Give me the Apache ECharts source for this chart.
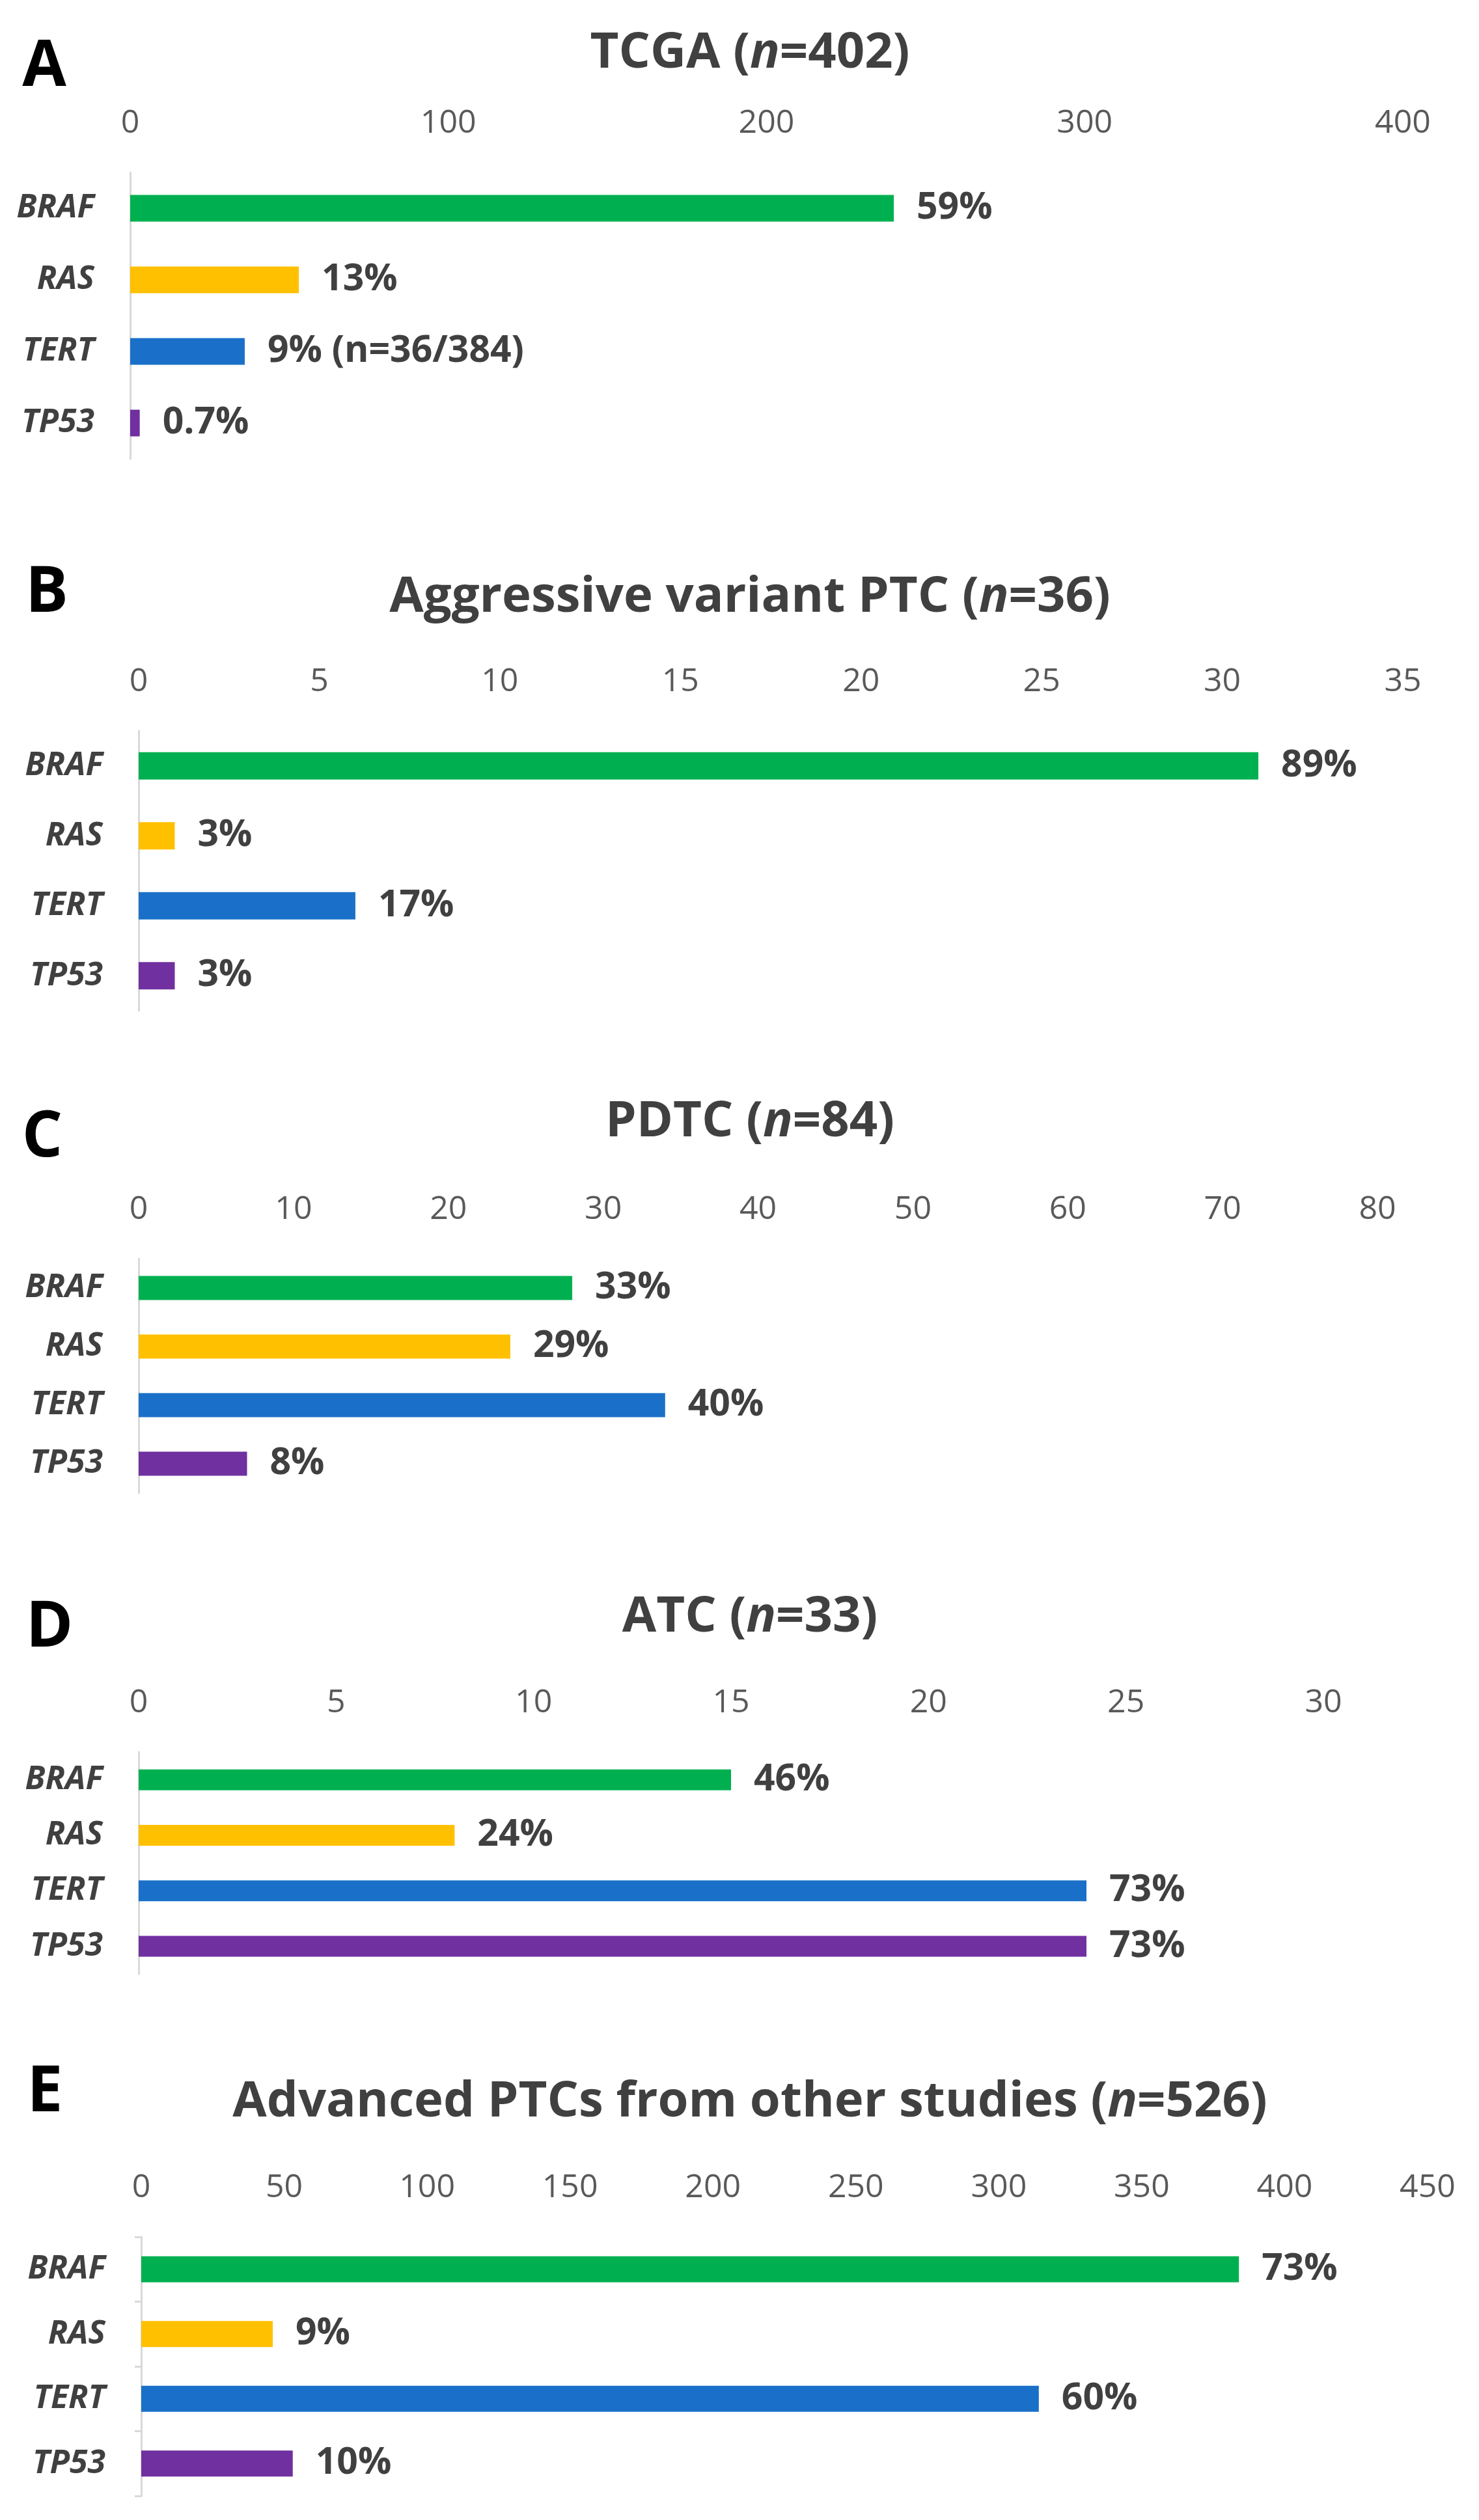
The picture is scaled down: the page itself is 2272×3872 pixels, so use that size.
<!DOCTYPE html>
<html>
<head>
<meta charset="utf-8">
<script src="https://cdn.jsdelivr.net/npm/echarts@6/dist/echarts.min.js"></script>
<style>
html,body{margin:0;padding:0;background:#fff;}
#chart{width:2272px;height:3872px;}
</style>
</head>
<body>
<div id="chart"></div>
<script>
// ---- data ----
var genes = ['BRAF', 'RAS', 'TERT', 'TP53'];
var geneColors = ['#00B050', '#FFC000', '#1A70C8', '#7030A0'];

var panelLetters = ['A', 'B', 'C', 'D', 'E'];
var panelTitles = [
  ['TCGA (', 'n', '=402)'],
  ['Aggressive variant PTC (', 'n', '=36)'],
  ['PDTC (', 'n', '=84)'],
  ['ATC (', 'n', '=33)'],
  ['Advanced PTCs from other studies (', 'n', '=526)']
];

var valuesA = [240, 53, 36, 3];
var valuesB = [31, 1, 6, 1];
var valuesC = [28, 24, 34, 7];
var valuesD = [15, 8, 24, 24];
var valuesE = [384, 46, 314, 53];

var labelsA = ['59%', '13%', '9% (n=36/384)', '0.7%'];
var labelsB = ['89%', '3%', '17%', '3%'];
var labelsC = ['33%', '29%', '40%', '8%'];
var labelsD = ['46%', '24%', '73%', '73%'];
var labelsE = ['73%', '9%', '60%', '10%'];

var axisMax = [400, 35, 80, 30, 450];
var axisInterval = [100, 5, 10, 5, 50];

// ---- layout ----
var layout = [
  {top: 265,  height: 440, left: 200, right: 117, barW: 41, titleY: 82,   letterX: 68, letterY: 104, ticks: false},
  {top: 1123, height: 430, left: 213, right: 117, barW: 42, titleY: 918,  letterX: 72, letterY: 912, ticks: false},
  {top: 1934, height: 360, left: 213, right: 156, barW: 37, titleY: 1724, letterX: 65, letterY: 1749, ticks: false},
  {top: 2692, height: 341, left: 213, right: 239, barW: 32, titleY: 2485, letterX: 76, letterY: 2502, ticks: false},
  {top: 3437, height: 398, left: 217, right: 79,  barW: 40, titleY: 3230, letterX: 69, letterY: 3216, ticks: true}
];

var allValues = [valuesA, valuesB, valuesC, valuesD, valuesE];
var allLabels = [labelsA, labelsB, labelsC, labelsD, labelsE];

var FONT = '"Open Sans", "Noto Sans", sans-serif';
var grids = [], xAxes = [], yAxes = [], series = [], graphics = [];

for (var p = 0; p < 5; p++) {
  var L = layout[p];
  grids.push({left: L.left, right: L.right, top: L.top, height: L.height, containLabel: false});
  xAxes.push({
    type: 'value', gridIndex: p, position: 'top', min: 0, max: axisMax[p], interval: axisInterval[p],
    axisLine: {show: false}, axisTick: {show: false}, splitLine: {show: false},
    axisLabel: {fontFamily: FONT, fontSize: 50, color: '#595959', margin: 50}
  });
  yAxes.push({
    type: 'category', gridIndex: p, data: genes, inverse: true,
    axisLine: {show: true, lineStyle: {color: '#D9D9D9', width: 3}},
    axisTick: {show: L.ticks, length: 10, lineStyle: {color: '#D9D9D9', width: 3}},
    splitLine: {show: false},
    axisLabel: {fontFamily: FONT, fontSize: 50, fontStyle: 'italic', fontWeight: 'bold', color: '#404040', margin: 55}
  });
  (function (labs) {
    series.push({
      type: 'bar', xAxisIndex: p, yAxisIndex: p, barWidth: L.barW,
      data: allValues[p].map(function (v, i) { return {value: v, itemStyle: {color: geneColors[i]}}; }),
      label: {
        show: true, position: 'right', distance: 35,
        fontFamily: FONT, fontSize: 57, fontWeight: 'bold', color: '#404040',
        formatter: function (prm) { return labs[prm.dataIndex]; }
      },
      silent: true, animation: false
    });
  })(allLabels[p]);

  var t = panelTitles[p];
  graphics.push({
    type: 'text', x: 1152, y: L.titleY,
    style: {
      text: t[0] + '{i|' + t[1] + '}' + t[2],
      fontFamily: FONT, fontSize: 76, fontWeight: 'bold', fill: '#404040',
      align: 'center', verticalAlign: 'middle',
      rich: {i: {fontFamily: FONT, fontSize: 76, fontWeight: 'bold', fontStyle: 'italic', fill: '#404040', color: '#404040'}}
    }
  });
  graphics.push({
    type: 'text', x: L.letterX, y: L.letterY,
    style: {
      text: panelLetters[p], fontFamily: FONT, fontSize: 98, fontWeight: 'bold', fill: '#000',
      align: 'center', verticalAlign: 'middle'
    }
  });
}

var chart = echarts.init(document.getElementById('chart'), null, {renderer: 'canvas'});
chart.setOption({
  backgroundColor: '#ffffff',
  animation: false,
  grid: grids, xAxis: xAxes, yAxis: yAxes, series: series,
  graphic: graphics
});
</script>
</body>
</html>
